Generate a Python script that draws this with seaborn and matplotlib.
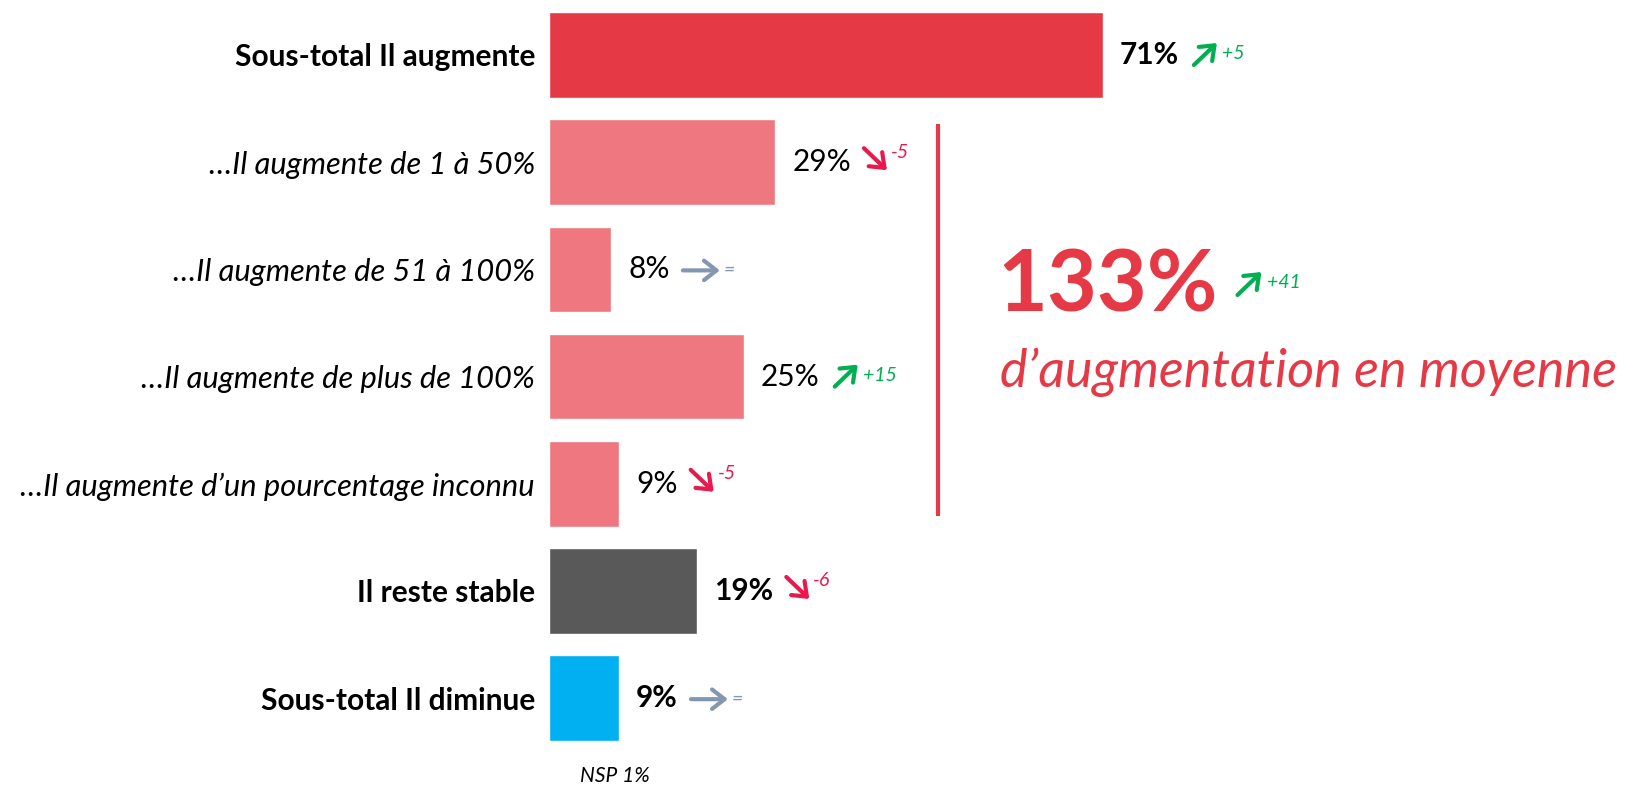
import matplotlib
matplotlib.use("Agg")
import matplotlib.pyplot as plt
from matplotlib.text import OffsetFrom
import seaborn as sns
import pandas as pd

# ---- data ----
categories = [
    "Sous-total Il augmente",
    "\u2026Il augmente de 1 \u00e0 50%",
    "\u2026Il augmente de 51 \u00e0 100%",
    "\u2026Il augmente de plus de 100%",
    "\u2026Il augmente d\u2019un pourcentage inconnu",
    "Il reste stable",
    "Sous-total Il diminue",
]
values = [71, 29, 8, 25, 9, 19, 9]
changes = ["+5", "-5", "=", "+15", "-5", "-6", "="]
bold_rows = [True, False, False, False, False, True, True]
bar_colors = ["#E63946", "#EE7780", "#EE7780", "#EE7780", "#EE7780", "#595959", "#00B0F0"]
headline_value = "133%"
headline_change = "+41"
headline_text = "d\u2019augmentation en moyenne"
footnote = "NSP 1%"

# ---- style ----
sns.set_style("white")
plt.rcParams["font.family"] = ["Lato", "DejaVu Sans"]

W, H, DPI = 1625, 787, 100
fig = plt.figure(figsize=(W / DPI, H / DPI), dpi=DPI)
ax_left = 549 / W
ax = fig.add_axes([ax_left, 0, 1 - ax_left, 1])

df = pd.DataFrame({"cat": categories, "val": values})
sns.barplot(data=df, x="val", y="cat", hue="cat", palette=bar_colors,
            legend=False, width=0.8, ax=ax, saturation=1, orient="h")

px_per_unit = 7.8
ax.set_xlim(0, (W - 549) / px_per_unit)
row_px0, row_step = 55, 107.2
ax.set_ylim((H - row_px0) / row_step, -row_px0 / row_step)
ax.set_xlabel("")
ax.set_ylabel("")
ax.set_xticks([])
sns.despine(ax=ax, left=True, bottom=True, top=True, right=True)
ax.tick_params(axis="y", length=0, pad=10)
LABEL_FS = 21.5
ITALIC_FS = 22.2
for lbl, b in zip(ax.get_yticklabels(), bold_rows):
    lbl.set_color("black")
    if b:
        lbl.set_fontsize(LABEL_FS)
        lbl.set_fontweight("bold")
    else:
        lbl.set_fontsize(ITALIC_FS)
        lbl.set_fontstyle("italic")

GREEN = "#00B050"
RED = "#E8194D"
GREY = "#8497B0"
SMALL_FS = 14


def change_marker(anchor_artist, change, fs=SMALL_FS):
    if change.startswith("+"):
        col, tail, head, num = GREEN, (15, -10), (38, 12), (43, 1)
    elif change.startswith("-"):
        col, tail, head, num = RED, (13, 14), (36, -8), (40, 10)
    else:
        col, tail, head, num = GREY, (13, -1), (50, -1), (54, -1)
    off = OffsetFrom(anchor_artist, (1, 0.5), unit="pixels")
    ax.annotate("", xy=head, xycoords=off, xytext=tail, textcoords=off,
                arrowprops=dict(arrowstyle="->,head_length=0.45,head_width=0.35",
                                color=col, lw=3, shrinkA=0, shrinkB=0,
                                mutation_scale=20),
                annotation_clip=False)
    ax.annotate(change, xy=num, xycoords=off, color=col, fontsize=fs,
                fontstyle="italic", va="center", ha="left",
                annotation_clip=False)


# value labels + change arrows
for i, (v, ch, b) in enumerate(zip(values, changes, bold_rows)):
    t = ax.annotate(f"{v}%", xy=(v, i), xytext=(17, 0), textcoords="offset pixels",
                    va="center", ha="left", fontsize=LABEL_FS,
                    fontweight="bold" if b else "normal", color="black",
                    annotation_clip=False)
    change_marker(t, ch)

# vertical separator line
ax.vlines((938 - 549) / px_per_unit, (124 - row_px0) / row_step,
          (516 - row_px0) / row_step, color="#E63946", lw=3)

# headline
big = fig.text(997 / W, 1 - 311 / H, headline_value, fontsize=62, fontweight="bold",
               color="#E63946", ha="left", va="baseline")
fig.text(1000 / W, 1 - 372 / H, headline_text, fontsize=37.5, fontstyle="italic",
         color="#E63946", ha="left", va="center")
fig.canvas.draw()
off = OffsetFrom(big, (1, 0), unit="pixels")
ax.annotate("", xy=(44, 54), xycoords=off, xytext=(20, 31), textcoords=off,
            arrowprops=dict(arrowstyle="->,head_length=0.45,head_width=0.35",
                            color=GREEN, lw=3, shrinkA=0, shrinkB=0, mutation_scale=20),
            annotation_clip=False)
ax.annotate(headline_change, xy=(49, 43), xycoords=off, color=GREEN, fontsize=SMALL_FS,
            fontstyle="italic", va="center", ha="left", annotation_clip=False)

# footnote
fig.text(615 / W, 1 - 776 / H, footnote, fontsize=15, fontstyle="italic",
         color="black", ha="center", va="center")

fig.savefig("out.png", dpi=DPI)
